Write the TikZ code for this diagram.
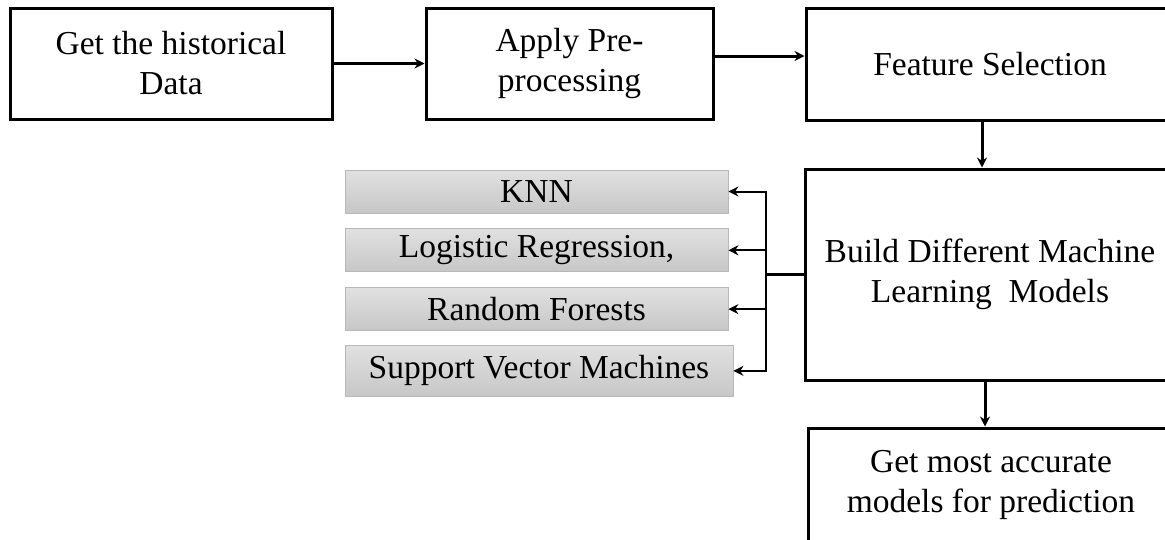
\documentclass[tikz,border=0pt]{standalone}
\usepackage{fontspec}
\setmainfont{Liberation Serif}
\usetikzlibrary{arrows.meta,positioning}
\tikzset{
  >={Stealth[length=10pt,width=10pt]},
  stage/.style={rectangle,draw,line width=3pt,align=center,inner sep=0pt},
  model/.style={rectangle,draw=black!28,line width=0.8pt,top color=black!12,bottom color=black!22,minimum width=383pt,minimum height=43pt,inner sep=0pt},
  flow/.style={->,line width=3pt},
  branch/.style={->,line width=2pt}
}

\begin{document}
\begin{tikzpicture}[x=1pt,y=1pt,font=\fontsize{33.5}{40}\selectfont]
  \clip (0,0) rectangle (1165,-539);
  \fill[white] (0,0) rectangle (1165,-539);

  % Pipeline stages
  \node[stage,minimum width=322pt,minimum height=111pt] (data) at (171,-63.5) {Get the historical\\Data};
  \node[stage,minimum width=287pt,minimum height=111pt] (prep) at (569.5,-63.5) {Apply Pre-\\processing};
  \node[stage,minimum width=368pt,minimum height=112pt] (feat) at (990,-64) {Feature Selection};
  \node[stage,minimum width=370pt,minimum height=211pt] (build) at (990,-274.5) {Build Different Machine\\Learning\ \ Models};
  \node[stage,minimum width=366pt,minimum height=114pt] (best) at (991,-485) {Get most accurate\\models for prediction};

  % Candidate models
  \node[model] (knn) at (536.5,-191.5) {KNN};
  \node[model,below=15pt of knn] (logreg) {Logistic Regression,};
  \node[model,below=15pt of logreg] (forest) {Random Forests};
  \node[model,minimum width=388pt,minimum height=51pt,below=14pt of forest,xshift=2.5pt] (svm) {Support Vector Machines};

  % Flow
  \draw[flow] (data) -- (prep);
  \draw[flow] ([yshift=7.5pt]prep.east) -- ([yshift=7.5pt]prep.east -| feat.west);
  \draw[flow] ([xshift=-8pt]feat.south) -- ([xshift=-8pt]feat.south |- build.north);
  \draw[flow] ([xshift=-5pt]build.south) -- ([xshift=-5pt]build.south |- best.north);

  % Fan out to models
  \coordinate[left=38pt of build.west] (split);
  \draw[line width=2.5pt] (build.west) -- (split);
  \foreach \m in {knn,logreg,forest,svm}
    \draw[branch] (split) |- (\m.east);
\end{tikzpicture}
\end{document}
